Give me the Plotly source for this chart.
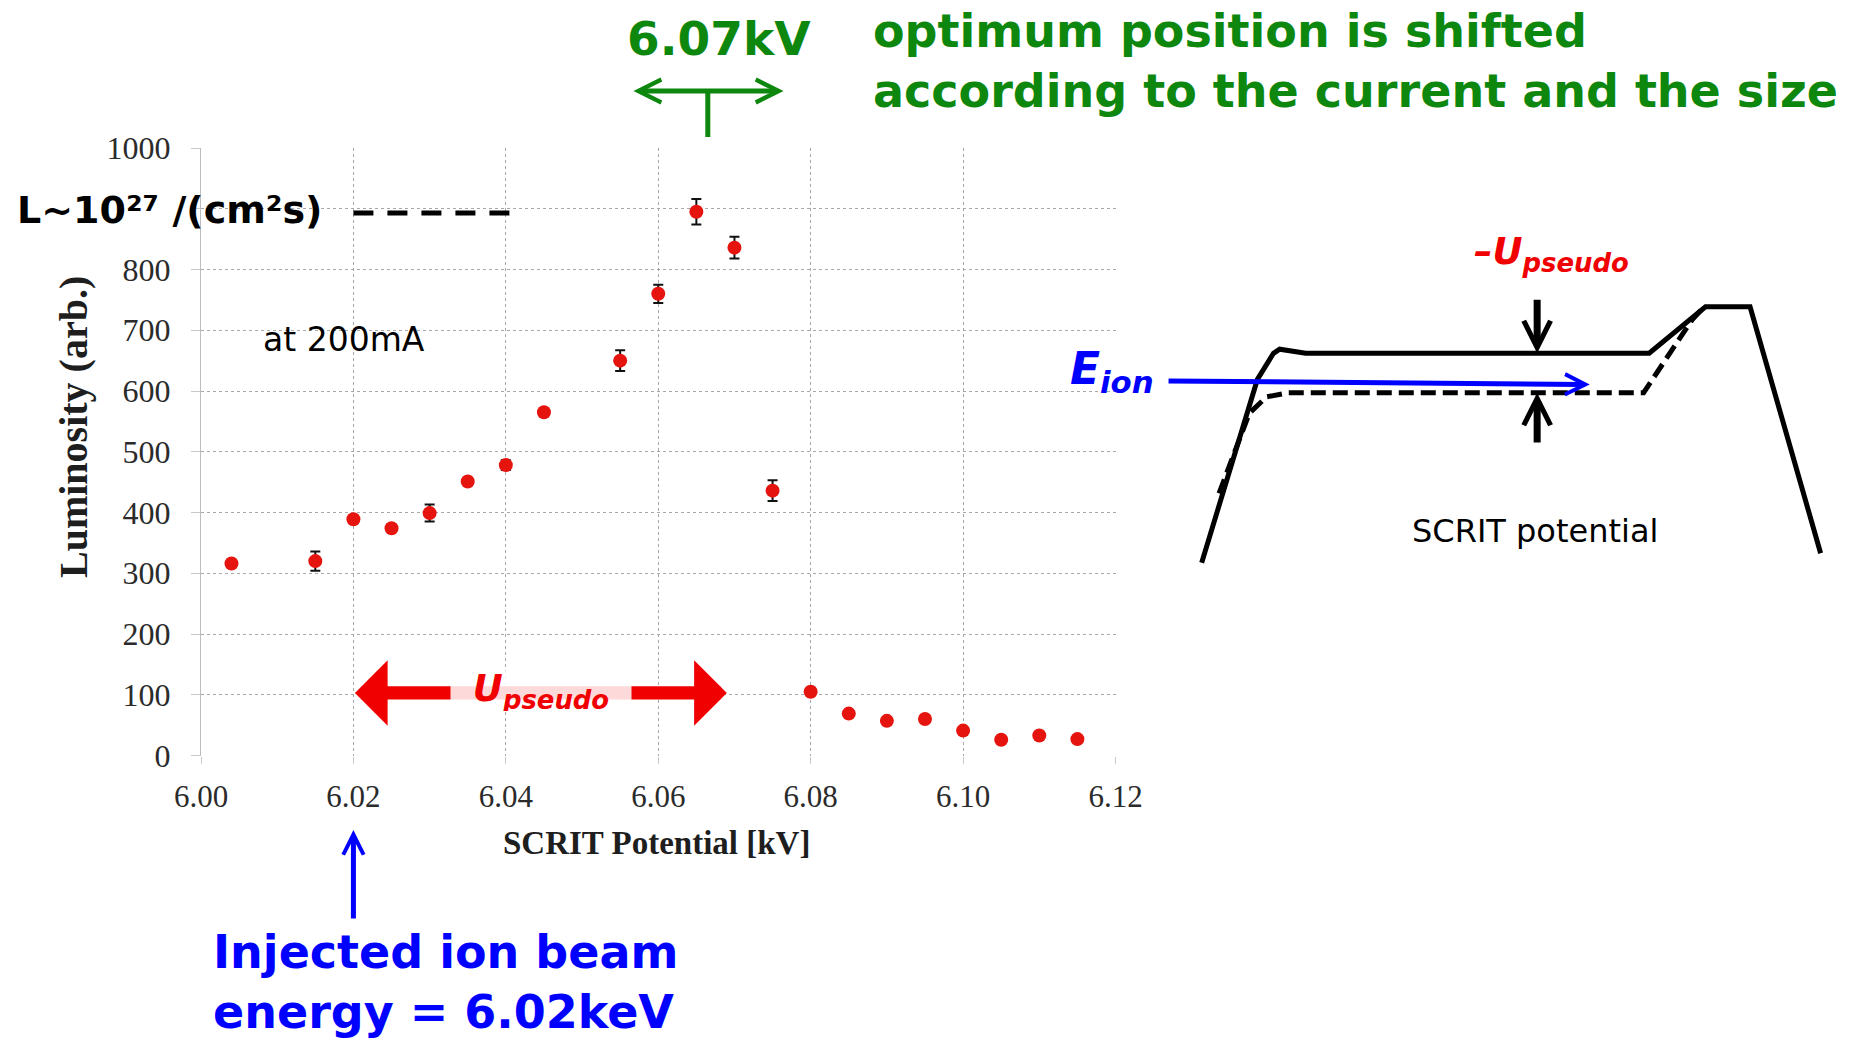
import plotly.graph_objects as go

FIG_W, FIG_H = 1861, 1042

# ---------------- luminosity scan at 200 mA ----------------
scrit_potential_kv = [6.004, 6.015, 6.020, 6.025, 6.030, 6.035, 6.040, 6.045,
                      6.055, 6.060, 6.065, 6.070, 6.075,
                      6.080, 6.085, 6.090, 6.095, 6.100, 6.105, 6.110, 6.115]
luminosity_arb = [316, 320, 389, 374, 399, 451, 478, 565,
                  650, 760, 895, 836, 436,
                  105, 69, 57, 60, 41, 26, 33, 27]
luminosity_err = [None, 16, None, None, 14, None, 8, None,
                  17, 15, 21, 18, 17,
                  None, None, None, None, None, None, None, None]

x_tick_values = [6.00, 6.02, 6.04, 6.06, 6.08, 6.10, 6.12]
x_tick_labels = ["6.00", "6.02", "6.04", "6.06", "6.08", "6.10", "6.12"]
y_tick_values = [0, 100, 200, 300, 400, 500, 600, 700, 800, 900, 1000]
y_tick_labels = ["0", "100", "200", "300", "400", "500", "600", "700", "800", "", "1000"]

# marked energies / levels on the scan
injection_energy_kv = 6.02      # injected ion beam energy
optimum_potential_kv = 6.0665   # optimum (shifted) potential, ~6.07 kV
pseudo_shift_end_kv = 6.069     # end of the U_pseudo shift
peak_luminosity_level = 893     # L ~ 1e27 /(cm^2 s)
pseudo_arrow_level = 103

# ---------------- SCRIT trap potential sketch (arb. units) ----------------
trap_position = [0, 9.0, 11.6, 12.6, 16.8, 72.3, 81.4, 88.6, 100]
trap_potential = [0, 71.6, 81.8, 83.4, 81.8, 81.8, 100, 100, 3.7]
shifted_position = [2.8, 7.7, 10.5, 14.0, 71.4, 79.2, 81.0]
shifted_potential = [27.1, 58.4, 64.8, 66.4, 66.4, 94.8, 99.5]
ion_beam_position = [-5.6, 62.7]
ion_beam_energy = [71.0, 69.6]
pseudo_marker_position = 54.2


def fx(p):
    """horizontal pixel -> paper fraction"""
    return p / FIG_W


def fy(p):
    """vertical pixel (from top) -> paper fraction"""
    return 1 - p / FIG_H


GREEN = "#0d870d"
BLUE = "#0000ff"
RED = "#f00000"
SLIDE_FONT = "DejaVu Sans"
PLOT_FONT = "Liberation Serif"

fig = go.Figure()

fig.add_trace(go.Scatter(
    x=scrit_potential_kv, y=luminosity_arb, mode="markers",
    marker=dict(color="#e5140f", size=14, line=dict(width=0)),
    error_y=dict(type="data", array=luminosity_err, color="#111111",
                 thickness=2, width=5),
    xaxis="x", yaxis="y", showlegend=False, hoverinfo="x+y",
))

fig.add_trace(go.Scatter(
    x=trap_position, y=trap_potential, mode="lines",
    line=dict(color="black", width=5),
    xaxis="x2", yaxis="y2", showlegend=False, hoverinfo="skip",
))
fig.add_trace(go.Scatter(
    x=shifted_position, y=shifted_potential, mode="lines",
    line=dict(color="black", width=5, dash="15px,7px"),
    xaxis="x2", yaxis="y2", showlegend=False, hoverinfo="skip",
))

shapes = [
    dict(type="line", xref="x", yref="y",
         x0=injection_energy_kv, x1=6.041,
         y0=peak_luminosity_level, y1=peak_luminosity_level,
         line=dict(color="black", width=5, dash="20px,14px")),
]

annotations = []

# axis titles
annotations.append(dict(
    text="<b>Luminosity (arb.)</b>", xref="paper", yref="paper",
    x=fx(74), y=fy(427), textangle=-90, showarrow=False,
    xanchor="center", yanchor="middle",
    font=dict(family=PLOT_FONT, size=40, color="#1e1e1e")))
annotations.append(dict(
    text="<b>SCRIT Potential [kV]</b>", xref="paper", yref="paper",
    x=fx(656), y=fy(843), showarrow=False,
    xanchor="center", yanchor="middle",
    font=dict(family=PLOT_FONT, size=33, color="#1e1e1e")))

# luminosity level label
annotations.append(dict(
    text="<b>L~10²⁷ /(cm²s)</b>", xref="paper", yref="paper",
    x=fx(15), y=fy(210), showarrow=False, xanchor="left", yanchor="middle",
    font=dict(family=SLIDE_FONT, size=38, color="black")))
annotations.append(dict(
    text="at 200mA", xref="paper", yref="paper",
    x=fx(261), y=fy(340), showarrow=False, xanchor="left", yanchor="middle",
    font=dict(family=SLIDE_FONT, size=33, color="black")))

# optimum position marker (green)
annotations.append(dict(
    text="<b>6.07kV</b>", xref="paper", yref="paper",
    x=fx(719), y=fy(38), showarrow=False, xanchor="center", yanchor="middle",
    font=dict(family=SLIDE_FONT, size=47, color=GREEN)))
annotations.append(dict(
    text="", xref="x", yref="paper", axref="x", ayref="pixel",
    x=optimum_potential_kv + 0.00995, y=fy(91),
    ax=optimum_potential_kv - 0.00995, ay=0,
    showarrow=True, arrowside="end+start",
    arrowhead=5, startarrowhead=5, arrowsize=0.9, startarrowsize=0.9,
    arrowwidth=5, arrowcolor=GREEN))
annotations.append(dict(
    text="", xref="x", yref="paper", x=optimum_potential_kv, y=fy(137),
    ax=0, ay=-47, showarrow=True, arrowhead=0, arrowwidth=5,
    arrowcolor=GREEN))
annotations.append(dict(
    text="<b>optimum position is shifted<br>according to the current and the size</b>",
    xref="paper", yref="paper", x=fx(871), y=fy(61), showarrow=False,
    xanchor="left", yanchor="middle", align="left",
    font=dict(family=SLIDE_FONT, size=46, color=GREEN)))

# injected beam energy (blue)
annotations.append(dict(
    text="", xref="x", yref="paper", x=injection_energy_kv, y=fy(830),
    ax=0, ay=90, showarrow=True, arrowhead=5, arrowsize=0.8,
    arrowwidth=5, arrowcolor=BLUE))
annotations.append(dict(
    text="<b>Injected ion beam<br>energy = 6.02keV</b>",
    xref="paper", yref="paper", x=fx(211), y=fy(982), showarrow=False,
    xanchor="left", yanchor="middle", align="left",
    font=dict(family=SLIDE_FONT, size=46, color=BLUE)))

# U_pseudo shift arrow (red)
annotations.append(dict(
    text="", xref="x", yref="y", axref="x", ayref="y",
    x=pseudo_shift_end_kv, y=pseudo_arrow_level,
    ax=injection_energy_kv, ay=pseudo_arrow_level,
    showarrow=True, arrowside="end+start",
    arrowhead=1, startarrowhead=1, arrowsize=0.82, startarrowsize=0.82,
    arrowwidth=13.3, arrowcolor=RED))
annotations.append(dict(
    text="<b><i>U<sub>pseudo</sub></i></b>", xref="x", yref="y",
    x=6.0446, y=pseudo_arrow_level, showarrow=False,
    xanchor="center", yanchor="middle", width=180, height=40,
    bgcolor="rgba(255,255,255,0.85)", borderpad=0, yshift=2,
    font=dict(family=SLIDE_FONT, size=37, color=RED)))

# trap potential sketch annotations
annotations.append(dict(
    text="", xref="x2", yref="y2", axref="x2", ayref="y2",
    x=ion_beam_position[1], y=ion_beam_energy[1],
    ax=ion_beam_position[0], ay=ion_beam_energy[0],
    showarrow=True, arrowhead=5, arrowsize=0.8, arrowwidth=5,
    arrowcolor=BLUE))
annotations.append(dict(
    text="", xref="x2", yref="y2", axref="x2", ayref="y2",
    x=pseudo_marker_position, y=trap_potential[5],
    ax=pseudo_marker_position, ay=103.3,
    showarrow=True, arrowhead=5, arrowsize=0.75, arrowwidth=7,
    arrowcolor="black"))
annotations.append(dict(
    text="", xref="x2", yref="y2", axref="x2", ayref="y2",
    x=pseudo_marker_position, y=shifted_potential[3],
    ax=pseudo_marker_position, ay=46.4,
    showarrow=True, arrowhead=5, arrowsize=0.75, arrowwidth=7,
    arrowcolor="black"))
annotations.append(dict(
    text="<b><i>E<sub>ion</sub></i></b>", xref="paper", yref="paper",
    x=fx(1068), y=fy(372), showarrow=False, xanchor="left", yanchor="middle",
    font=dict(family=SLIDE_FONT, size=44, color=BLUE)))
annotations.append(dict(
    text="<b><i>–U<sub>pseudo</sub></i></b>", xref="paper", yref="paper",
    x=fx(1472), y=fy(254), showarrow=False, xanchor="left", yanchor="middle",
    font=dict(family=SLIDE_FONT, size=37, color=RED)))
annotations.append(dict(
    text="SCRIT potential", xref="paper", yref="paper",
    x=fx(1535), y=fy(531), showarrow=False, xanchor="center", yanchor="middle",
    font=dict(family=SLIDE_FONT, size=32, color="black")))

fig.update_layout(
    width=FIG_W, height=FIG_H,
    margin=dict(l=0, r=0, t=0, b=0),
    paper_bgcolor="white", plot_bgcolor="white",
    showlegend=False,
    xaxis=dict(
        domain=[fx(201), fx(1115.5)], range=[6.0, 6.12],
        tickvals=x_tick_values, ticktext=x_tick_labels,
        showgrid=True, gridcolor="#a8a8a8", griddash="dot", gridwidth=1,
        zeroline=False, showline=False,
        ticks="outside", ticklen=7, tickcolor="#c8c8c8", tickwidth=1,
        ticklabelstandoff=6,
        tickfont=dict(family=PLOT_FONT, size=31, color="#2b2b2b"),
        automargin=False, fixedrange=True, anchor="y",
    ),
    yaxis=dict(
        domain=[fy(755.5), fy(148)], range=[0, 1000],
        tickvals=y_tick_values, ticktext=y_tick_labels,
        showgrid=True, gridcolor="#a8a8a8", griddash="dot", gridwidth=1,
        zeroline=False, showline=True, linecolor="#bdbdbd", linewidth=1,
        ticks="outside", ticklen=9, tickcolor="#c8c8c8", tickwidth=1,
        ticklabelstandoff=14,
        tickfont=dict(family=PLOT_FONT, size=32, color="#2b2b2b"),
        automargin=False, fixedrange=True, anchor="x",
    ),
    xaxis2=dict(domain=[fx(1139.8), fx(1833.0)], range=[-10, 102],
                visible=False, anchor="y2", fixedrange=True),
    yaxis2=dict(domain=[fy(575.5), fy(242.7)], range=[-5, 125],
                visible=False, anchor="x2", fixedrange=True),
    shapes=shapes,
    annotations=annotations,
)

fig.write_html("out.html")
